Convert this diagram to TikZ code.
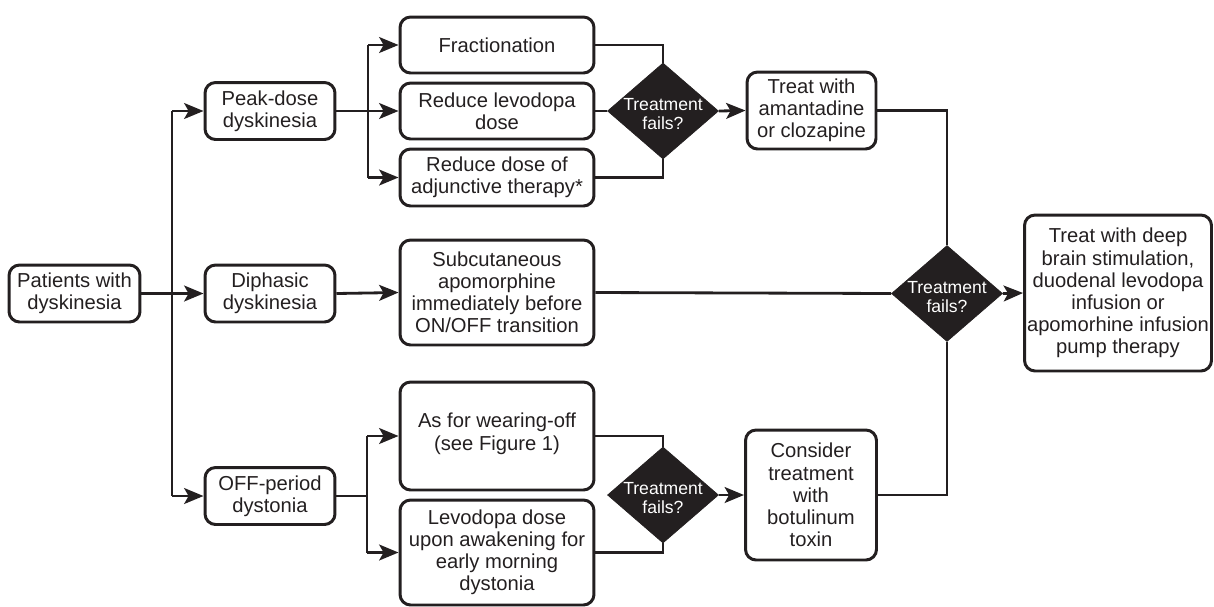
\documentclass[tikz,border=0pt]{standalone}
\usepackage{fontspec}
\setmainfont{Liberation Sans}
\usetikzlibrary{shapes.geometric,arrows.meta,calc}
\definecolor{ink}{HTML}{231F20}
\begin{document}
\begin{tikzpicture}[x=0.02cm,y=-0.02cm,
  box/.style={draw=ink,line width=1.7pt,rounded corners=6pt,align=center,
    inner sep=1pt,font=\fontsize{11.5}{12.6}\selectfont,text=ink},
  dia/.style={diamond,fill=ink,draw=ink,inner sep=0pt,minimum width=2.22cm,minimum height=1.92cm},
  diatext/.style={align=center,text=white,font=\fontsize{10}{10.8}\selectfont,inner sep=0pt},
  conn/.style={draw=ink,line width=1.6pt},
  arr/.style={conn,-{Stealth[length=11pt,width=9pt,inset=2.5pt]}}]
\useasboundingbox (0,0) rectangle (1214,606);
% left column
\node[box,minimum width=2.62cm,minimum height=1.14cm] (pat) at (74.5,293.5) {Patients with\\dyskinesia};
\node[box,minimum width=2.6cm,minimum height=1.14cm] (peak) at (270,111) {Peak-dose\\dyskinesia};
\node[box,minimum width=2.6cm,minimum height=1.14cm] (diph) at (270,293.5) {Diphasic\\dyskinesia};
\node[box,minimum width=2.6cm,minimum height=1.14cm] (off) at (270,496) {OFF-period\\dystonia};
% second column
\node[box,minimum width=3.88cm,minimum height=1.12cm] (frac) at (497,45) {Fractionation};
\node[box,minimum width=3.88cm,minimum height=1.12cm] (red) at (497,111) {Reduce levodopa\\dose};
\node[box,minimum width=3.88cm,minimum height=1.14cm] (adj) at (497,177.5) {Reduce dose of\\adjunctive therapy*};
\node[box,minimum width=3.88cm,minimum height=2.1cm] (sub) at (497,292.5) {Subcutaneous\\apomorphine\\immediately before\\ON/OFF transition};
\node[box,minimum width=3.88cm,minimum height=2.16cm,text depth=5pt] (wear) at (497,436) {As for wearing-off\\(see Figure 1)};
\node[box,minimum width=3.88cm,minimum height=2.1cm] (lev) at (497,552.5) {Levodopa dose\\upon awakening for\\early morning\\dystonia};
% diamonds
\node[dia] (d1) at (663,111) {};
\node[diatext] (t1) at ([yshift=-2pt]d1.center) {Treatment\\fails?};
\node[dia] (d2) at (947,293.5) {};
\node[diatext] (t2) at ([yshift=-2pt]d2.center) {Treatment\\fails?};
\node[dia] (d3) at (663,495) {};
\node[diatext] (t3) at ([yshift=-2pt]d3.center) {Treatment\\fails?};
% third column
\node[box,minimum width=2.58cm,minimum height=1.54cm] (aman) at (811.5,110.5) {Treat with\\amantadine\\or clozapine};
\node[box,minimum width=2.62cm,minimum height=2.6cm] (cons) at (811,495) {Consider\\treatment\\with\\botulinum\\toxin};
\node[box,minimum width=3.74cm,minimum height=3.12cm,inner sep=0pt] (fin) at (1118,293) {Treat with deep\\brain stimulation,\\duodenal levodopa\\infusion or\\apomorhine infusion\\pump therapy};
% coordinates for branching
\coordinate (tr) at (172,293.5);
\coordinate (b1) at (368,111);
\coordinate (b3) at (367,496);
% connectors
\draw[arr] (pat.east) -- (diph.west);
\draw[conn] (tr |- peak.west) -- (tr |- off.west);
\draw[arr] (tr |- peak.west) -- (peak.west);
\draw[arr] (tr |- off.west) -- (off.west);
\draw[arr] (peak.east) -- (red.west);
\draw[conn] (b1 |- frac.west) -- (b1 |- adj.west);
\draw[arr] (b1 |- frac.west) -- (frac.west);
\draw[arr] (b1 |- adj.west) -- (adj.west);
\draw[conn] (frac.east) -| (d1.north);
\draw[conn] (red.east) -- (d1.west);
\draw[conn] (adj.east) -| (d1.south);
\draw[arr] (d1.east) -- (aman.west);
\draw[conn] (aman.east) -| (d2.north);
\draw[arr] (diph.east) -- (sub.west);
\draw[conn] (sub.east) -- (d2.west);
\draw[arr] (d2.east) -- (fin.west);
\draw[conn] (off.east) -- (b3);
\draw[conn] (b3 |- wear.west) -- (b3 |- lev.west);
\draw[arr] (b3 |- wear.west) -- (wear.west);
\draw[arr] (b3 |- lev.west) -- (lev.west);
\draw[conn] (wear.east) -| (d3.north);
\draw[conn] (lev.east) -| (d3.south);
\draw[arr] (d3.east) -- (cons.west);
\draw[conn] (cons.east) -| (d2.south);
\end{tikzpicture}
\end{document}
